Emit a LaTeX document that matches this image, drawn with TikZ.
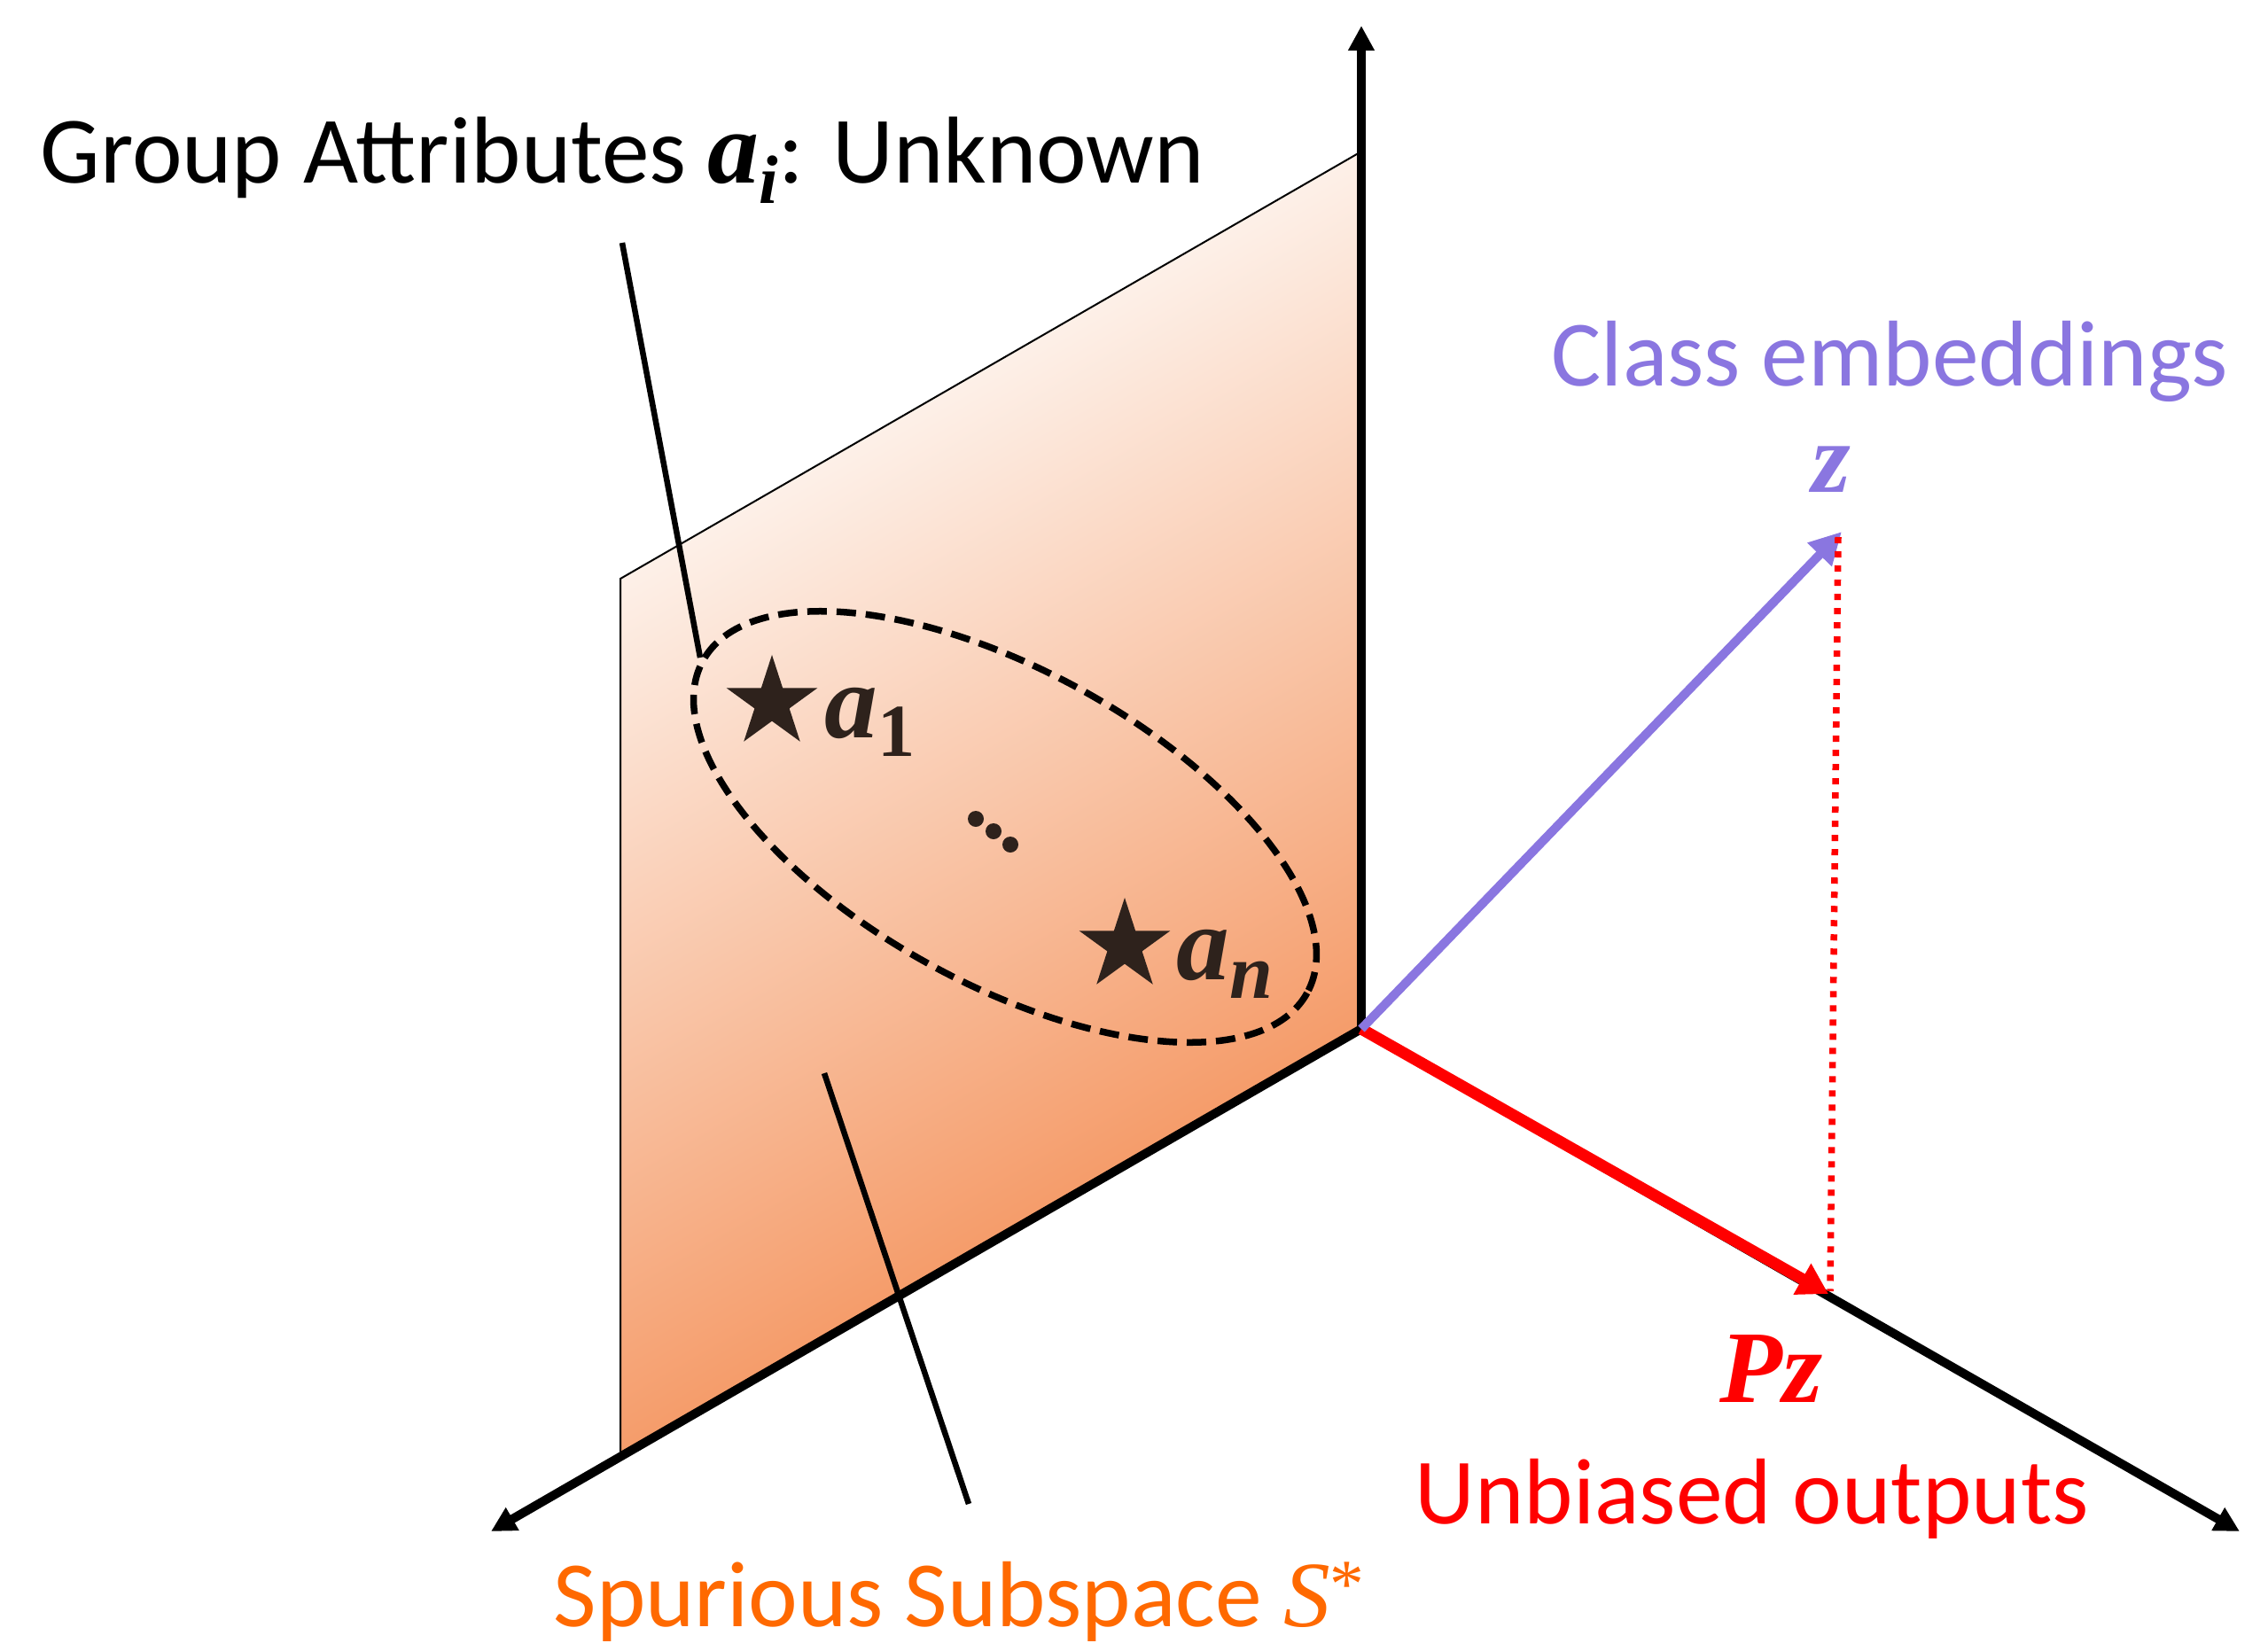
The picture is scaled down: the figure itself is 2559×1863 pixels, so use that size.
\documentclass[tikz,border=0pt]{standalone}
\usepackage{fontspec}
\setmainfont{Carlito}
\newfontfamily\mfont{Liberation Serif}
\usetikzlibrary{arrows.meta,shapes.geometric}
\definecolor{purp}{RGB}{138,118,224}
\definecolor{sorange}{RGB}{255,105,0}
\definecolor{planelight}{RGB}{253,240,232}
\definecolor{planedark}{RGB}{245,156,106}
\definecolor{starc}{RGB}{46,34,28}
\newcommand\bvar[1]{{\mfont\bfseries\itshape #1}}
\begin{document}
\begin{tikzpicture}[x=0.01cm,y=-0.01cm,
  axisline/.style={line width=0.1cm,-{Triangle[length=0.28cm,width=0.28cm]}},
  pointer/.style={line width=0.065cm},
  lbl/.style={anchor=base west,inner sep=0,font=\fontsize{30}{36}\selectfont},
  starnode/.style={star,star points=5,star point ratio=2.618,minimum size=1.08cm,inner sep=0,fill=starc,draw=none}]
\useasboundingbox (0,0) rectangle (2559,1863);
% coordinates
\coordinate (O) at (1536,1161);
\coordinate (ytip) at (1536,29);
\coordinate (ltip) at (554,1728);
\coordinate (rtip) at (2527,1728);
\coordinate (TL) at (700,653);
\coordinate (TR) at (1536,171);
\coordinate (BL) at (700,1643);
\coordinate (zt) at (2078,600);
\coordinate (pzt) at (2063,1460);
\coordinate (dtop) at (2074,606);
\coordinate (dbot) at (2065,1457);
\coordinate (p1a) at (702,274);
\coordinate (p1b) at (790,742);
\coordinate (p2a) at (930,1211);
\coordinate (p2b) at (1093,1697);
\coordinate (ec) at (1134,933);
% plane
\begin{scope}
  \clip (TL) -- (TR) -- (O) -- (BL) -- cycle;
  \begin{scope}[transform canvas={shift={(TL)},rotate=30}]
    \shade[top color=planelight,bottom color=planedark] (-700,0) rectangle (1200,858);
  \end{scope}
\end{scope}
\draw[line width=0.02cm] (BL) -- (TL) -- (TR);
% axes
\draw[axisline] (O) -- (ytip);
\draw[axisline] (O) -- (ltip);
\draw[axisline] (O) -- (rtip);
% ellipse
\draw[line width=0.075cm,dash pattern=on 0.22cm off 0.11cm,rotate around={-28.8:(ec)}] (ec) ellipse [x radius=389,y radius=177];
% stars and labels
\node[starnode] (s1) at (871,793) {};
\node[starnode] (sn) at (1269,1067) {};
\node[lbl,text=starc] (a1) at (930,832) {{\fontsize{34}{40}\selectfont\bvar{a}}\raisebox{-0.2em}{\fontsize{24}{24}\selectfont\mfont\bfseries 1}};
\node[lbl,text=starc] (an) at (1327,1105) {{\fontsize{34}{40}\selectfont\bvar{a}}\raisebox{-0.2em}{\fontsize{25}{25}\selectfont\bvar{n}}};
\fill[starc] (1101,924) circle (9);
\fill[starc] (1121,938) circle (9);
\fill[starc] (1140,953) circle (9);
% pointers
\draw[pointer] (p1a) -- (p1b);
\draw[pointer] (p2a) -- (p2b);
% vectors
\draw[red,line width=0.13cm,-{Triangle[length=0.34cm,width=0.38cm]}] (O) -- (pzt);
\draw[purp,line width=0.1cm,-{Triangle[length=0.36cm,width=0.36cm]}] (O) -- (zt);
\draw[red,line width=0.075cm,dash pattern=on 0.07cm off 0.09cm] (dtop) -- (dbot);
% texts
\node[lbl,font=\fontsize{30.5}{36}\selectfont] (title) at (45,206) {Group Attributes {\fontsize{33}{36}\selectfont\bvar{a}}\raisebox{-0.22em}{\fontsize{22}{22}\selectfont\bvar{i}}: Unknown};
\node[lbl,text=purp] (ce) at (1750,435) {Class embeddings};
\node[anchor=base,inner sep=0,text=purp,font=\fontsize{32}{36}\selectfont] (z) at (2066,555) {\bvar{z}};
\node[lbl,text=red,font=\fontsize{33}{36}\selectfont] (pz) at (1940,1582) {\bvar{Pz}};
\node[lbl,text=red] (ub) at (1596,1719) {Unbiased outputs};
\node[lbl,text=sorange] (ss) at (624,1835) {Spurious Subspace {\mfont\itshape S}\raisebox{0.2em}{\fontsize{22}{22}\selectfont\mfont *}};
\end{tikzpicture}
\end{document}
